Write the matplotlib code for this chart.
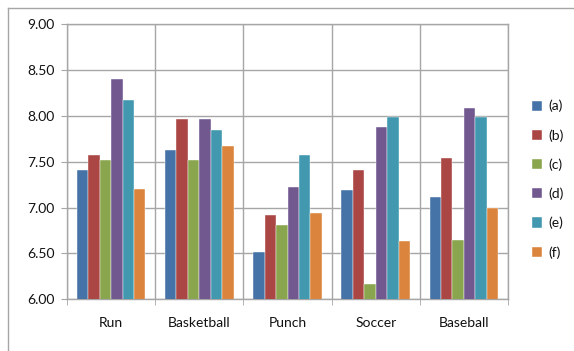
import numpy as np
import matplotlib
matplotlib.use("Agg")
import matplotlib.pyplot as plt
from matplotlib.lines import Line2D

# data
categories = ['Run', 'Basketball', 'Punch', 'Soccer', 'Baseball']
series = ['(a)', '(b)', '(c)', '(d)', '(e)', '(f)']
val_a = [7.41, 7.63, 6.51, 7.19, 7.11]
val_b = [7.57, 7.96, 6.92, 7.41, 7.54]
val_c = [7.52, 7.52, 6.81, 6.17, 6.65]
val_d = [8.40, 7.97, 7.22, 7.88, 8.09]
val_e = [8.17, 7.84, 7.57, 7.99, 7.99]
val_f = [7.20, 7.67, 6.94, 6.63, 7.00]
values = [val_a, val_b, val_c, val_d, val_e, val_f]
colors = ['#4572A7', '#AA4643', '#89A54E', '#71588F', '#4198AF', '#DB843D']
yticks = [6.0, 6.5, 7.0, 7.5, 8.0, 8.5, 9.0]

plt.rcParams['font.family'] = ['Lato', 'DejaVu Sans']
grid_c = '#a6a6a6'
txt_c = '#111111'

fig = plt.figure(figsize=(5.74, 3.51), dpi=100)
ax = fig.add_axes([67/574, 1 - 299.3/351, (508 - 67)/574, (299.3 - 24)/351])

x = np.arange(len(categories))
w = 0.13
for i, (name, vals) in enumerate(zip(series, values)):
    ax.bar(x + (i - 2.5) * w, vals, w, bottom=0, color=colors[i], label=name,
           edgecolor='white', linewidth=0.3, zorder=3)

ax.set_ylim(6.0, 9.0)
ax.set_xlim(-0.5, len(categories) - 0.5)
ax.set_yticks(yticks)
ax.set_yticklabels(['%.2f' % t for t in yticks])
ax.set_xticks(x)
ax.set_xticklabels(categories)
ax.set_xticks(np.arange(-0.5, len(categories)), minor=True)

ax.grid(axis='y', color=grid_c, linewidth=1, zorder=0)
ax.grid(axis='x', which='minor', color=grid_c, linewidth=1, zorder=0)
for s in ax.spines.values():
    s.set_color(grid_c)
    s.set_linewidth(1)

ax.tick_params(axis='y', length=4, color=grid_c, labelsize=10, labelcolor=txt_c, pad=5)
ax.tick_params(axis='x', which='major', length=0, labelsize=10, labelcolor=txt_c, pad=13)
ax.tick_params(axis='x', which='minor', length=4, color=grid_c)

ax.legend(loc='center left', bbox_to_anchor=(532/574, 1 - 179.2/351),
          bbox_transform=fig.transFigure, frameon=False, fontsize=10,
          handlelength=0.75, handleheight=0.75, handletextpad=0.4,
          labelspacing=1.2, borderpad=0, borderaxespad=0, labelcolor=txt_c)

# outer chart border
fig.add_artist(Line2D([7.5/574, 7.5/574], [0, 1 - 7.5/351], transform=fig.transFigure,
                      color=grid_c, linewidth=1))
fig.add_artist(Line2D([7.5/574, 1], [1 - 7.5/351, 1 - 7.5/351], transform=fig.transFigure,
                      color=grid_c, linewidth=1))

fig.savefig('out.png', dpi=100)
